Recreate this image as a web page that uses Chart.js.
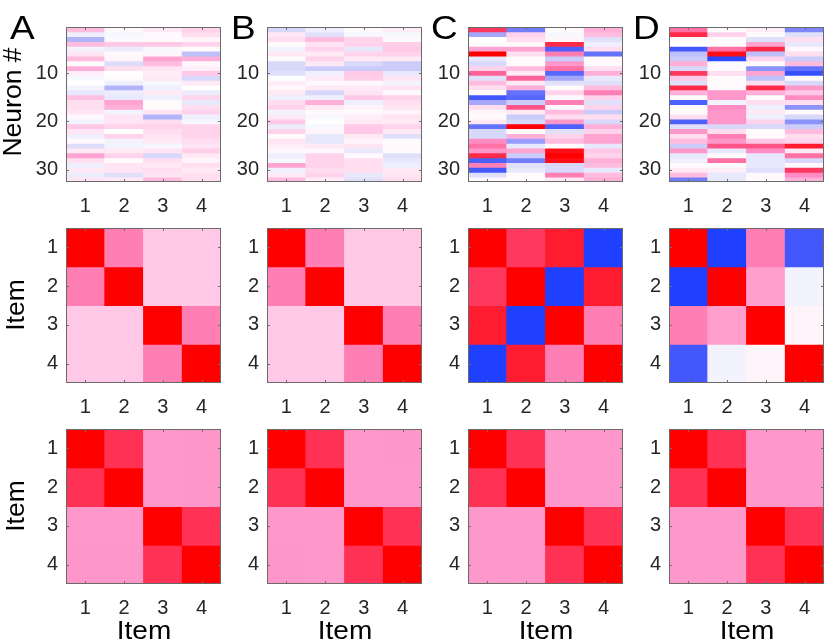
<!DOCTYPE html>
<html><head><meta charset="utf-8">
<script src="https://cdn.jsdelivr.net/npm/chart.js@4.4.1/dist/chart.umd.min.js"></script>
<style>
html,body{margin:0;padding:0;background:#fff;}
#fig{position:relative;width:825px;height:641px;overflow:hidden;font-family:"Liberation Sans",Arial,Helvetica,sans-serif;color:#000;}
#fig canvas{position:absolute;}
.lbl{position:absolute;white-space:nowrap;line-height:1;color:#000;}
.rot{transform:translate(-50%,-50%) rotate(-90deg) scaleX(1.06);}
.ctr{transform:translate(-50%,0) scaleX(1.12);}
.let{transform-origin:0 0;transform:scaleX(1.12);}
</style></head><body><div id="fig"></div>
<script>
// ---------- data ----------
const items = ['1','2','3','4'];
const neuronTicks = [10, 20, 30];
const panelLetters = ['A','B','C','D'];

// population activity (neuron 1..32) for each item, per panel
const popA1 = [0.3,-0.1,-0.4,0.3,-0.08,0.12,0.3,0.02,0.35,0.08,-0.05,0,-0.08,-0.15,0.28,0.15,0.15,0.12,0.03,-0.08,0.25,0.12,-0.1,0.03,-0.22,0.1,0.4,0.15,-0.1,0.1,-0.12,0.12];
const popA2 = [0.02,-0.05,-0.03,0.25,-0.12,0.03,0.05,-0.22,0.15,0,0.02,-0.1,-0.4,-0.12,-0.15,0.4,0.35,-0.08,0.12,0.12,0.2,0,0.2,-0.08,-0.08,0.1,0.2,0.02,0.12,0.12,-0.2,0.1];
const popA3 = [0.1,0.03,0.03,0.25,-0.05,0.05,0.4,0.3,0.12,0.08,0.1,-0.05,-0.1,0.1,-0.1,0.02,0.02,0.12,-0.4,0.15,0.2,0.15,0.12,0.1,-0.05,0.12,-0.25,0.15,0.1,0.15,0.12,0.3];
const popA4 = [0.2,0.15,0.05,0.2,0.02,-0.35,0.35,0.03,0.08,0.25,-0.25,0.1,0,-0.12,0.18,-0.15,0.15,0.2,-0.1,-0.05,0.2,0.2,0.2,0.15,0.12,0.22,0.1,0.05,0.15,0.1,0.15,0.15];

const popB1 = [-0.25,0.1,0.15,0.02,-0.08,0.1,0.02,-0.25,-0.25,-0.2,0,0.08,0.03,0.1,-0.1,0.15,0.2,-0.08,0.1,0.25,-0.12,0.2,0.02,0.12,0.08,0.03,-0.1,-0.05,0.4,-0.1,0.1,0.3];
const popB2 = [-0.1,-0.2,0.3,0.12,0.2,0.1,0.2,0.1,-0.3,-0.1,0.1,0.03,0.1,-0.25,-0.1,0.35,0.1,0.03,-0.05,0,-0.05,0.05,-0.15,-0.15,0.1,0.03,0.2,0.2,0.2,0.15,0.2,0.08];
const popB3 = [0.02,-0.05,0.2,0.2,-0.15,0.2,0.1,-0.25,-0.3,0.25,0.22,0.03,0.1,0.12,0.25,-0.1,0.05,0.03,0.08,0.1,0.25,0.25,0.1,0.05,0.12,-0.15,0.03,0.15,0.15,0.15,-0.15,-0.2];
const popB4 = [0.08,-0.05,0.03,0.22,0.25,0.2,0.1,-0.3,-0.3,-0.15,0.12,-0.08,0.12,0.03,0.2,0.15,0.12,0.05,0.12,0.1,0.2,0.1,-0.2,0.02,0.03,0.02,-0.2,-0.15,-0.1,0.1,0.12,0.15];

const popC1 = [0.8,-0.45,0,0.02,0.4,1.0,-0.15,-0.25,0.2,0.65,-0.2,0.3,0.15,0.02,-0.85,-0.45,0.15,0.05,0.02,0.1,-0.7,-0.25,-0.25,0.5,0.6,0.45,0.85,-0.8,0.55,-0.85,-0.2,0.03];
const popC2 = [-0.65,0.2,0.15,0.03,0.4,0.15,0.02,0.02,0.3,0.1,0.65,0.1,0.35,-0.7,-0.75,-0.3,0.7,0.1,-0.3,-0.25,1.0,0.02,0.35,-0.5,-0.15,0.4,-0.3,-0.65,-0.2,-0.15,0.02,0.02];
const popC3 = [0.02,-0.05,0.05,0.85,-0.8,0.55,-0.3,0.45,0.6,-0.75,-0.45,-0.2,0.02,0.2,0.03,0.55,0.03,0.3,0.15,0.45,-0.8,-0.2,0.2,0.3,0.02,0.95,1.0,0.95,-0.25,-0.25,0.55,0.1];
const popC4 = [0.35,0.3,-0.2,-0.1,0.15,-0.7,0.02,0.03,0.15,0.35,-0.15,-0.2,0.3,0.55,0.2,-0.2,0.2,-0.3,0.15,-0.25,0.35,0.2,0.4,0.4,-0.15,0.25,0.2,0.35,0.3,-0.15,0.3,0.35];

const popD1 = [0.6,0.85,0.03,0,-0.85,-0.35,-0.3,0.35,-0.25,0.8,0.25,-0.2,0.85,0.35,0.02,-0.8,0.02,0.02,0.15,-0.8,-0.2,0.45,0.15,0.3,-0.3,0.45,-0.15,-0.1,0.02,0.1,0.3,-0.65];
const popD2 = [0.02,0.2,0.02,0.02,0.6,0.95,-0.95,0.02,0.03,0.15,0.02,0.02,0.03,0.45,0.45,-0.08,0.5,0.45,0.45,0.45,-0.25,0.15,0.55,0.45,0.7,-0.15,0.02,0.6,0.02,0.08,-0.15,-0.15];
const popD3 = [0.08,0.02,-0.2,0.4,0.85,-0.35,0.2,0.02,-0.55,0.4,-0.35,0.15,0.85,0.35,0.02,0.15,-0.1,0.1,-0.1,0.2,-0.25,0.02,0.03,0.25,0.7,0.5,-0.15,-0.15,-0.15,-0.2,0.03,0.02];
const popD4 = [-0.6,-0.2,0.15,-0.15,0.03,0.15,-0.3,0.3,-0.7,-0.9,0.02,-0.25,0.45,0.25,0.5,0.15,-0.55,0.03,-0.25,-0.55,-0.3,0.3,0.15,0.2,0.9,0.1,0.6,-0.25,0.03,0.8,0.5,0.35];

// item-by-item similarity (middle row)
const simA = [[1,0.55,0.25,0.25],[0.55,1,0.25,0.25],[0.25,0.25,1,0.55],[0.25,0.25,0.55,1]];
const simB = [[1,0.55,0.25,0.25],[0.55,1,0.25,0.25],[0.25,0.25,1,0.55],[0.25,0.25,0.55,1]];
const simC = [[1,0.8,0.9,-1],[0.8,1,-1,0.9],[0.9,-1,1,0.55],[-1,0.9,0.55,1]];
const simD = [[1,-1,0.55,-0.85],[-1,1,0.42,-0.08],[0.55,0.42,1,0.05],[-0.85,-0.08,0.05,1]];

// item-by-item similarity (bottom row)
const rsaA = [[1,0.82,0.45,0.46],[0.82,1,0.45,0.46],[0.45,0.45,1,0.82],[0.46,0.46,0.82,1]];
const rsaB = [[1,0.82,0.45,0.46],[0.82,1,0.45,0.45],[0.45,0.45,1,0.82],[0.46,0.45,0.82,1]];
const rsaC = [[1,0.82,0.45,0.45],[0.82,1,0.45,0.45],[0.45,0.45,1,0.82],[0.45,0.45,0.82,1]];
const rsaD = [[1,0.82,0.45,0.45],[0.82,1,0.45,0.45],[0.45,0.45,1,0.82],[0.45,0.45,0.82,1]];

// ---------- colour map (blue - white - pink - red) ----------
const cmapStops = [
  [-1,   [32, 64, 255]],
  [-0.75,[88, 104, 252]],
  [-0.5, [152,156,250]],
  [-0.25,[216,216,250]],
  [0,    [255,255,255]],
  [0.25, [255,200,230]],
  [0.5,  [255,140,195]],
  [0.75, [255,70,120]],
  [1,    [255,0,0]]
];
function cmap(v){
  v = Math.max(-1, Math.min(1, v));
  for (let i = 0; i < cmapStops.length - 1; i++){
    const [a, ca] = cmapStops[i], [b, cb] = cmapStops[i+1];
    if (v >= a && v <= b){
      const t = (v - a) / (b - a);
      const c = ca.map((x, k) => Math.round(x + (cb[k] - x) * t));
      return `rgb(${c[0]},${c[1]},${c[2]})`;
    }
  }
  return 'rgb(255,255,255)';
}

// ---------- layout ----------
const fig = document.getElementById('fig');
const PW = 155, PH = 155;
const panelLefts = [66, 267, 468, 669];
const rowTops = [27, 228, 429];
const AXW = 50, PADT = 5, PADR = 4, AXH = 40;
const tickFont = {family: '"Liberation Sans", Arial, Helvetica, sans-serif', size: 20};
const tickColor = '#262626';

const framePlugin = {
  id: 'frame',
  afterDatasetsDraw(chart){
    const {ctx, chartArea: a, scales} = chart;
    ctx.save();
    ctx.strokeStyle = '#707070';
    ctx.lineWidth = 1;
    const tl = 3;
    ctx.beginPath();
    scales.x.ticks.forEach((t, i) => {
      const x = Math.round(scales.x.getPixelForTick(i)) + 0.5;
      ctx.moveTo(x, a.top); ctx.lineTo(x, a.top + tl);
      ctx.moveTo(x, a.bottom); ctx.lineTo(x, a.bottom - tl);
    });
    scales.y.ticks.forEach((t, i) => {
      const y = Math.round(scales.y.getPixelForTick(i)) + 0.5;
      ctx.moveTo(a.left, y); ctx.lineTo(a.left + tl, y);
      ctx.moveTo(a.right, y); ctx.lineTo(a.right - tl, y);
    });
    ctx.stroke();
    ctx.strokeStyle = '#6a6a6a';
    ctx.strokeRect(a.left + 0.5, a.top + 0.5, a.right - a.left - 1, a.bottom - a.top - 1);
    ctx.restore();
  }
};

function makeCanvas(left, top){
  const c = document.createElement('canvas');
  c.width = AXW + PW + PADR;
  c.height = PADT + PH + AXH;
  c.style.left = (left - AXW) + 'px';
  c.style.top = (top - PADT) + 'px';
  c.style.width = c.width + 'px';
  c.style.height = c.height + 'px';
  fig.appendChild(c);
  return c;
}

function noPad(s){ s.paddingTop = 0; s.paddingBottom = 0; s.paddingLeft = 0; s.paddingRight = 0; }

function heatmap(left, top, columns, nRows, yTicks){
  // columns: array (one per item) of values for rows 1..nRows
  const datasets = [];
  for (let r = 1; r <= nRows; r++){
    datasets.push({
      data: items.map(() => [r - 0.5, r + 0.5]),
      backgroundColor: items.map((_, j) => cmap(columns[j][r - 1])),
      borderWidth: 0,
      inflateAmount: 0.4,
      grouped: false,
      barPercentage: 1,
      categoryPercentage: 1
    });
  }
  new Chart(makeCanvas(left, top), {
    type: 'bar',
    data: {labels: items, datasets},
    options: {
      responsive: false, animation: false, devicePixelRatio: 1,
      layout: {padding: {top: PADT, right: PADR, left: 0, bottom: 0}},
      plugins: {legend: {display: false}, tooltip: {enabled: false}},
      scales: {
        x: {
          type: 'category', offset: true,
          grid: {display: false, drawTicks: false}, border: {display: false},
          ticks: {font: tickFont, color: tickColor, padding: 12, maxRotation: 0},
          afterFit(s){ s.height = AXH; noPad(s); }
        },
        y: {
          type: 'linear', min: 0.5, max: nRows + 0.5, reverse: true,
          grid: {display: false, drawTicks: false}, border: {display: false},
          ticks: {font: tickFont, color: tickColor, padding: 8},
          afterBuildTicks(s){ s.ticks = yTicks.map(v => ({value: v})); },
          afterFit(s){ s.width = AXW; noPad(s); }
        }
      }
    },
    plugins: [framePlugin]
  });
}

function matrixToColumns(m){ return items.map((_, j) => m.map(row => row[j])); }

const pops = [[popA1,popA2,popA3,popA4],[popB1,popB2,popB3,popB4],[popC1,popC2,popC3,popC4],[popD1,popD2,popD3,popD4]];
const sims = [simA, simB, simC, simD];
const rsas = [rsaA, rsaB, rsaC, rsaD];

for (let p = 0; p < 4; p++){
  heatmap(panelLefts[p], rowTops[0], pops[p], 32, neuronTicks);
  heatmap(panelLefts[p], rowTops[1], matrixToColumns(sims[p]), 4, [1,2,3,4]);
  heatmap(panelLefts[p], rowTops[2], matrixToColumns(rsas[p]), 4, [1,2,3,4]);
}

// ---------- text ----------
function addLabel(text, x, y, size, cls){
  const d = document.createElement('div');
  d.className = 'lbl ' + (cls || '');
  d.textContent = text;
  d.style.left = x + 'px';
  d.style.top = y + 'px';
  d.style.fontSize = size + 'px';
  fig.appendChild(d);
  return d;
}
const letterX = [10, 231, 431, 633];
panelLetters.forEach((L, i) => addLabel(L, letterX[i], 11, 33, 'let'));
addLabel('Neuron #', 12, 102, 25, 'rot');
addLabel('Item', 15, 305, 25, 'rot');
addLabel('Item', 15, 506, 25, 'rot');
panelLefts.forEach(l => addLabel('Item', l + PW / 2, 618, 25, 'ctr'));
</script></body></html>
